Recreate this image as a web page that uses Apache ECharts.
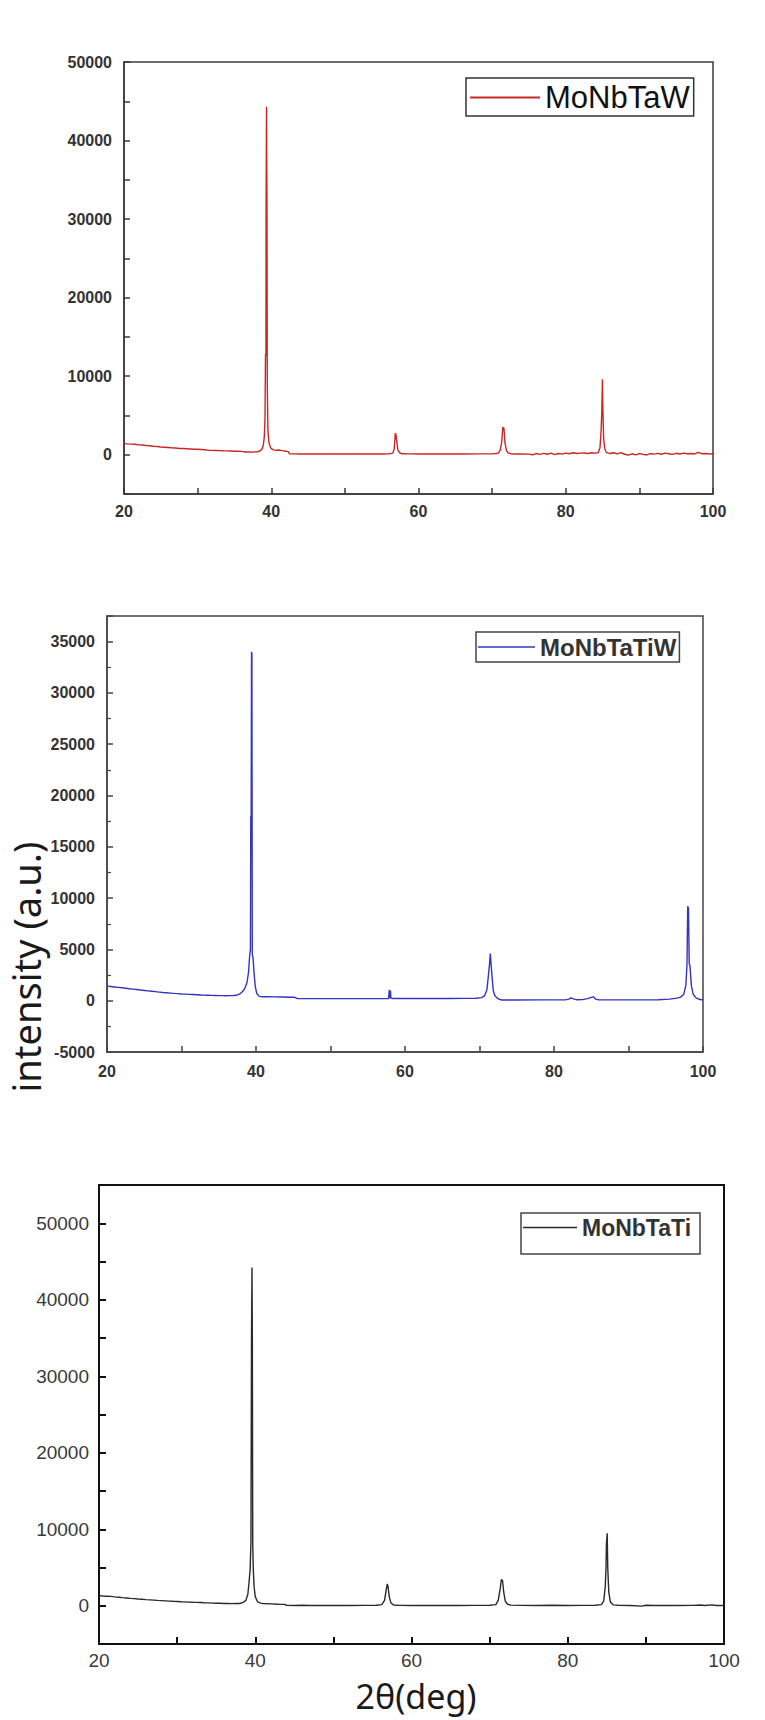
<!DOCTYPE html>
<html><head><meta charset="utf-8">
<script src="https://cdn.jsdelivr.net/npm/echarts@6/dist/echarts.min.js"></script>
<style>html,body{margin:0;padding:0;background:#fff}#c{width:765px;height:1720px}</style>
</head><body><div id="c"></div>
<script>
// ---- data (2θ in degrees, intensity in counts) ----
const seriesNames = ['MoNbTaW', 'MoNbTaTiW', 'MoNbTaTi'];
const xTicks = [20, 40, 60, 80, 100];
const yTicks1 = [0, 10000, 20000, 30000, 40000, 50000];
const yTicks2 = [-5000, 0, 5000, 10000, 15000, 20000, 25000, 30000, 35000];
const yTicks3 = [0, 10000, 20000, 30000, 40000, 50000];

const monbtaw = [
[20,1420],[20.5,1380],[21,1350],[21.5,1330],[22,1260],[22.5,1240],[23,1170],[23.5,1150],[24,1080],[24.5,1040],[25,990],[25.5,960],[26,920],[26.5,880],[27,850],[27.5,800],[28,790],[28.5,760],[29,730],[29.5,700],[30,690],[30.5,670],[31,640],[31.5,560],[32,560],[32.5,540],[33,520],[33.5,500],[34,490],[34.5,470],[35,450],[35.5,440],[36,430],[36.5,350],[37,340],[37.5,330],[38,380],[38.4,450],[38.7,650],[38.9,1100],[39.05,2200],[39.15,4500],[39.22,12800],[39.28,12600],[39.3,31800],[39.36,44300],[39.42,31600],[39.46,9000],[39.55,3000],[39.7,1500],[39.9,900],[40.2,650],[40.6,560],[41,600],[41.5,520],[42,450],[42.3,400],[42.5,120],[43,110],[44,100],[45,110],[46,100],[47,105],[48,100],[49,100],[50,100],[51,105],[52,100],[53,100],[54,110],[55,100],[56,110],[56.5,200],[56.7,700],[56.85,2750],[56.95,2500],[57.05,1700],[57.2,600],[57.45,250],[57.8,120],[59,110],[60,100],[62,100],[64,110],[65,100],[66,100],[68,105],[70,110],[70.8,180],[71.1,600],[71.3,1600],[71.45,3500],[71.6,3400],[71.75,1500],[71.95,500],[72.2,200],[72.6,120],[73,100],[74,110],[75,80],[75.5,0],[76,150],[76.5,40],[77,180],[77.5,60],[78,200],[78.5,20],[79,160],[79.5,80],[80,200],[80.5,120],[81,250],[81.5,150],[82,200],[82.5,220],[83,160],[83.5,250],[84,200],[84.4,250],[84.65,900],[84.8,3000],[84.9,5600],[84.98,9600],[85.05,5500],[85.15,2000],[85.3,800],[85.5,300],[85.8,200],[86,150],[86.5,250],[87,100],[87.5,260],[88,60],[88.5,-50],[89,120],[89.5,-20],[90,150],[90.5,50],[91,-30],[91.5,150],[92,80],[92.5,180],[93,60],[93.5,200],[94,120],[94.5,40],[95,180],[95.5,100],[96,200],[96.5,120],[97,150],[97.5,100],[98,300],[98.3,200],[98.5,120],[99,150],[99.5,100],[100,120]
];

const monbtatiw = [
[20,1420],[20.5,1380],[21,1340],[21.5,1300],[22,1260],[22.5,1220],[23,1170],[23.5,1130],[24,1090],[24.5,1040],[25,1000],[25.5,960],[26,920],[26.5,880],[27,840],[27.5,800],[28,770],[28.5,740],[29,710],[29.5,690],[30,660],[30.5,640],[31,620],[31.5,600],[32,580],[32.5,560],[33,540],[33.5,530],[34,520],[34.5,510],[35,500],[35.5,500],[36,490],[36.5,500],[37,510],[37.5,560],[37.9,700],[38.2,900],[38.5,1200],[38.8,1800],[39.0,2800],[39.15,4400],[39.25,5000],[39.3,18000],[39.35,17800],[39.4,34000],[39.45,33800],[39.5,4500],[39.6,4200],[39.75,2600],[39.9,1400],[40.1,700],[40.4,450],[40.8,380],[41.5,380],[42.5,370],[43.5,360],[44.5,340],[45.2,330],[45.5,220],[46,200],[48,200],[50,200],[52,200],[54,200],[56,200],[57,200],[57.8,220],[57.9,1050],[57.95,250],[58.05,1000],[58.1,260],[58.3,220],[60,220],[62,220],[64,220],[66,220],[68,230],[69.5,240],[70.3,300],[70.7,500],[71.0,1100],[71.2,2500],[71.35,3600],[71.45,4600],[71.55,3600],[71.7,2200],[71.85,1000],[72.05,500],[72.3,300],[72.6,150],[73,70],[75,70],[78,80],[80,80],[81.5,80],[82,150],[82.3,280],[82.6,180],[83,100],[83.8,110],[84.5,200],[85,330],[85.3,380],[85.6,150],[86,90],[88,80],[90,80],[92,80],[94,100],[95.5,150],[96.5,250],[97,350],[97.4,600],[97.7,1500],[97.85,3500],[97.95,9200],[98.05,9000],[98.15,3600],[98.25,3400],[98.45,1400],[98.7,600],[99.1,250],[99.6,120],[100,100]
];

const monbtati = [
[20,1320],[20.5,1280],[21,1250],[21.5,1220],[22,1160],[22.5,1120],[23,1060],[23.5,1010],[24,960],[24.5,930],[25,880],[25.5,850],[26,800],[26.5,770],[27,740],[27.5,700],[28,670],[28.5,640],[29,610],[29.5,580],[30,560],[30.5,520],[31,500],[31.5,470],[32,450],[32.5,440],[33,420],[33.5,390],[34,370],[34.5,340],[35,330],[35.5,320],[36,300],[36.5,290],[37,280],[37.5,290],[38,300],[38.4,400],[38.8,700],[39.05,1500],[39.2,3000],[39.35,4800],[39.45,8400],[39.52,34900],[39.58,44200],[39.63,34500],[39.68,8000],[39.75,4700],[39.85,2500],[40.0,1200],[40.3,500],[40.7,350],[41,300],[42,250],[43,200],[43.8,180],[44,50],[45,40],[46,60],[47,40],[48,50],[49,40],[50,50],[52,40],[54,50],[55.5,60],[56.2,150],[56.55,700],[56.75,2000],[56.9,2860],[57.0,2500],[57.15,1200],[57.35,400],[57.7,100],[58.5,50],[60,40],[62,40],[64,50],[66,40],[68,50],[70,60],[70.8,150],[71.1,700],[71.35,2200],[71.5,3430],[71.65,3300],[71.8,1800],[72.0,600],[72.3,200],[72.7,80],[74,50],[76,40],[78,60],[80,40],[82,50],[83.5,60],[84.3,150],[84.6,600],[84.8,2500],[84.9,5000],[84.95,8100],[85.05,9460],[85.12,5000],[85.25,1800],[85.45,500],[85.8,120],[86.5,60],[88,40],[89.5,-50],[90,60],[91,40],[92,50],[94,30],[96,50],[97,100],[97.5,40],[98.5,110],[99,40],[100,40]
];

// ---- styles ----
const st = [
  {axis:'#3a3a3a', w:1.5, lab:'#333', fs:16, fw:'bold', ff:'Liberation Sans', xm:9, ym:12, tick:6, color:'#c62828', yMax:50000, yTicks:yTicks1, minor:false},
  {axis:'#444', w:1.5, lab:'#333', fs:16, fw:'bold', ff:'Liberation Sans', xm:11, ym:12, tick:6, color:'#3434c0', yMax:37500, yTicks:yTicks2, minor:true},
  {axis:'#111', w:2, lab:'#3a3a3a', fs:19, fw:'normal', ff:'Liberation Sans', xm:7, ym:10, tick:7, color:'#2a2a2a', yMax:55000, yTicks:yTicks3, minor:false}
];
const grids = [
  {left:124, top:62, width:589, height:432},
  {left:107, top:616, width:596, height:436},
  {left:99, top:1185, width:625, height:459}
];

function xAx(i) {
  const s = st[i];
  return {type:'value', gridIndex:i, min:20, max:100, interval:10,
    axisLine:{show:true, onZero:false, lineStyle:{color:s.axis, width:s.w}},
    axisTick:{show:true, inside:true, length:s.tick, lineStyle:{color:s.axis, width:s.w}},
    splitLine:{show:false},
    axisLabel:{margin:s.xm, color:s.lab, fontSize:s.fs, fontWeight:s.fw, fontFamily:s.ff,
      formatter: v => xTicks.indexOf(v) >= 0 ? String(v) : ''}};
}
function yAx(i) {
  const s = st[i];
  return {type:'value', gridIndex:i, min:-5000, max:s.yMax, interval:5000,
    axisLine:{show:true, onZero:false, lineStyle:{color:s.axis, width:s.w}},
    axisTick:{show:true, inside:true, length:s.tick, lineStyle:{color:s.axis, width:s.w}},
    minorTick:{show:s.minor, splitNumber:2, length:4, lineStyle:{color:s.axis, width:1.2}},
    splitLine:{show:false},
    axisLabel:{margin:s.ym, color:s.lab, fontSize:s.fs, fontWeight:s.fw, fontFamily:s.ff,
      showMaxLabel: s.yTicks.indexOf(s.yMax) >= 0,
      formatter: v => s.yTicks.indexOf(v) >= 0 ? String(v) : ''}};
}

const datasets = [monbtaw, monbtatiw, monbtati];

const option = {
  animation:false,
  backgroundColor:'#fff',
  grid: grids.map((g,i) => Object.assign({show:true, borderColor:st[i].axis, borderWidth:st[i].w, backgroundColor:'transparent'}, g)),
  xAxis:[0,1,2].map(xAx),
  yAxis:[0,1,2].map(yAx),
  legend:[
    {data:[seriesNames[0]], left:466, top:78, padding:[4,4,3,4], itemWidth:70, itemHeight:2, icon:'rect',
     borderColor:'#333', borderWidth:1.5, selectedMode:false,
     textStyle:{fontSize:31, fontFamily:'Liberation Sans', color:'#111'}},
    {data:[seriesNames[1]], left:476, top:632, padding:[3,3,3,2], itemWidth:57, itemHeight:1.5, icon:'rect',
     borderColor:'#444', borderWidth:1.5, selectedMode:false,
     textStyle:{fontSize:24, fontWeight:'bold', fontFamily:'Liberation Sans', color:'#333'}},
    {data:[seriesNames[2]], left:521, top:1213, padding:[3,9,15,2], itemWidth:54, itemHeight:1.5, icon:'rect',
     borderColor:'#444', borderWidth:1.5, selectedMode:false,
     textStyle:{fontSize:23, fontWeight:'bold', fontFamily:'Liberation Sans', color:'#333'}}
  ],
  series: datasets.map((d,i) => ({
    name:seriesNames[i], type:'line', xAxisIndex:i, yAxisIndex:i, data:d,
    showSymbol:false, symbol:'none', sampling:null,
    lineStyle:{color:st[i].color, width:1.4}, itemStyle:{color:st[i].color}
  })),
  graphic:[
    {type:'text', x:26, y:967, rotation:Math.PI/2,
     style:{text:'intensity (a.u.)', fill:'#1a1a1a', font:'38px "Noto Sans"', textAlign:'center', textVerticalAlign:'middle', align:'center', verticalAlign:'middle'}},
    {type:'text', x:416, y:1696,
     style:{text:'2θ(deg)', fill:'#1a1a1a', font:'34px "Noto Sans"', textAlign:'center', textVerticalAlign:'middle', align:'center', verticalAlign:'middle'}}
  ]
};
const chart = echarts.init(document.getElementById('c'), null, {renderer:'svg', width:765, height:1720});
chart.setOption(option);
</script>
</body></html>
